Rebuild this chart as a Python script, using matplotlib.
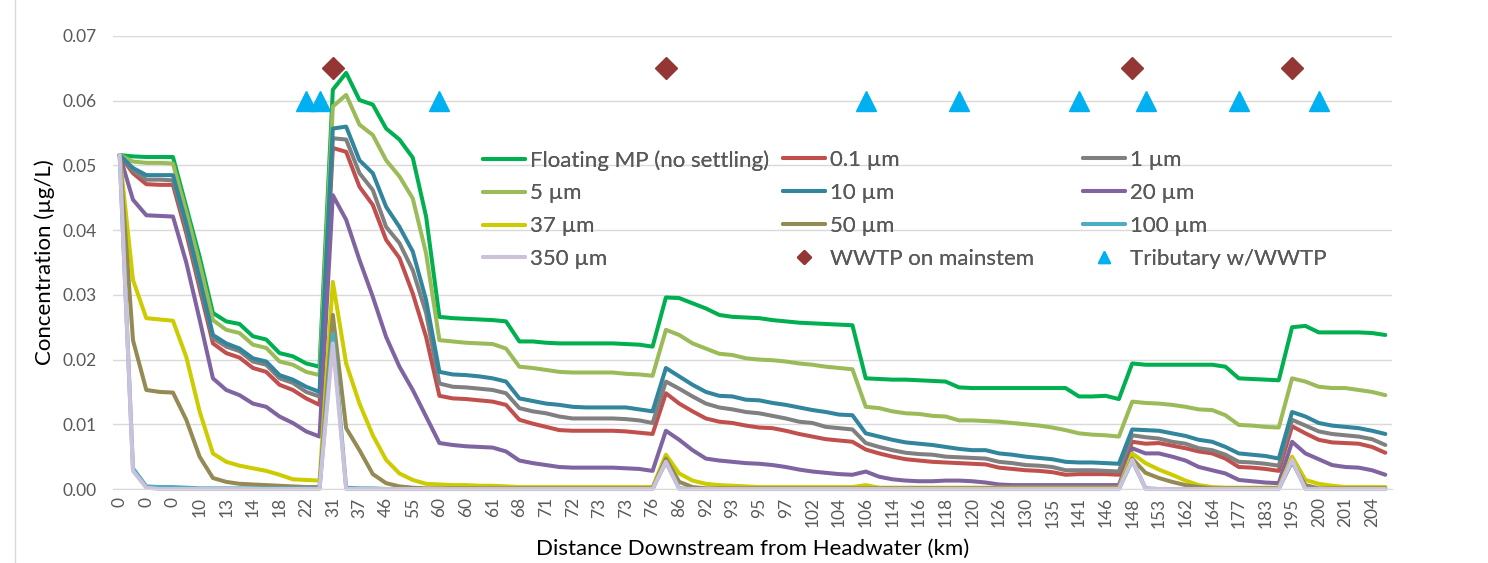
import matplotlib
matplotlib.use("Agg")
import matplotlib.pyplot as plt
from matplotlib.lines import Line2D
import numpy as np

plt.rcParams['font.family'] = ['Lato', 'DejaVu Sans']

# ---------------- data ----------------
tick_labels = ["0", "0", "0", "10", "13", "14", "18", "22", "31", "37", "46", "55",
               "60", "60", "61", "68", "71", "72", "73", "73", "76", "86", "92", "93",
               "95", "97", "102", "104", "106", "114", "116", "118", "120", "126", "130", "135",
               "141", "146", "148", "153", "162", "164", "177", "183", "195", "200", "201", "204"]

floating = [0.0516, 0.0514, 0.0513, 0.0513, 0.0513, 0.0436, 0.0359, 0.0272, 0.0259, 0.0255,
            0.0236, 0.0231, 0.0210, 0.0205, 0.0194, 0.0189, 0.0617, 0.0643, 0.0601, 0.0594,
            0.0557, 0.0540, 0.0512, 0.0421, 0.0266, 0.0264, 0.0263, 0.0262, 0.0261, 0.0259,
            0.0228, 0.0228, 0.0226, 0.0225, 0.0225, 0.0225, 0.0225, 0.0225, 0.0224, 0.0223,
            0.0220, 0.0296, 0.0295, 0.0287, 0.0279, 0.0269, 0.0266, 0.0265, 0.0264, 0.0261,
            0.0259, 0.0257, 0.0256, 0.0255, 0.0254, 0.0253, 0.0171, 0.0170, 0.0169, 0.0169,
            0.0168, 0.0167, 0.0166, 0.0157, 0.0156, 0.0156, 0.0156, 0.0156, 0.0156, 0.0156,
            0.0156, 0.0156, 0.0143, 0.0143, 0.0144, 0.0139, 0.0194, 0.0192, 0.0192, 0.0192,
            0.0192, 0.0192, 0.0192, 0.0189, 0.0171, 0.0170, 0.0169, 0.0168, 0.0250, 0.0252,
            0.0242, 0.0242, 0.0242, 0.0242, 0.0241, 0.0238]

um0_1 = [0.0516, 0.0488, 0.0471, 0.0470, 0.0470, 0.0395, 0.0310, 0.0225, 0.0210, 0.0203,
         0.0187, 0.0181, 0.0161, 0.0153, 0.0140, 0.0130, 0.0527, 0.0521, 0.0467, 0.0439,
         0.0385, 0.0357, 0.0302, 0.0235, 0.0144, 0.0140, 0.0139, 0.0137, 0.0135, 0.0130,
         0.0107, 0.0101, 0.0096, 0.0091, 0.0090, 0.0090, 0.0090, 0.0090, 0.0089, 0.0087,
         0.0085, 0.0148, 0.0132, 0.0120, 0.0109, 0.0104, 0.0102, 0.0098, 0.0095, 0.0094,
         0.0090, 0.0085, 0.0081, 0.0077, 0.0075, 0.0073, 0.0061, 0.0055, 0.0050, 0.0046,
         0.0044, 0.0042, 0.0041, 0.0040, 0.0039, 0.0038, 0.0033, 0.0031, 0.0029, 0.0028,
         0.0026, 0.0022, 0.0023, 0.0023, 0.0023, 0.0022, 0.0073, 0.0070, 0.0071, 0.0067,
         0.0063, 0.0058, 0.0055, 0.0047, 0.0034, 0.0033, 0.0031, 0.0028, 0.0097, 0.0086,
         0.0076, 0.0072, 0.0071, 0.0070, 0.0065, 0.0056]

um1 = [0.0516, 0.0492, 0.0478, 0.0478, 0.0477, 0.0403, 0.0318, 0.0233, 0.0220, 0.0213,
       0.0197, 0.0192, 0.0171, 0.0164, 0.0150, 0.0143, 0.0542, 0.0540, 0.0488, 0.0462,
       0.0405, 0.0380, 0.0338, 0.0272, 0.0163, 0.0158, 0.0157, 0.0155, 0.0153, 0.0148,
       0.0125, 0.0120, 0.0117, 0.0112, 0.0109, 0.0109, 0.0109, 0.0109, 0.0108, 0.0106,
       0.0102, 0.0166, 0.0155, 0.0143, 0.0132, 0.0126, 0.0123, 0.0119, 0.0117, 0.0113,
       0.0109, 0.0104, 0.0102, 0.0096, 0.0094, 0.0092, 0.0071, 0.0065, 0.0060, 0.0056,
       0.0054, 0.0053, 0.0050, 0.0049, 0.0048, 0.0047, 0.0042, 0.0040, 0.0037, 0.0036,
       0.0034, 0.0029, 0.0029, 0.0029, 0.0028, 0.0027, 0.0083, 0.0080, 0.0078, 0.0073,
       0.0070, 0.0063, 0.0060, 0.0053, 0.0042, 0.0041, 0.0039, 0.0036, 0.0107, 0.0098,
       0.0089, 0.0085, 0.0083, 0.0081, 0.0077, 0.0068]

um5 = [0.0516, 0.0506, 0.0504, 0.0504, 0.0503, 0.0428, 0.0348, 0.0261, 0.0246, 0.0241,
       0.0223, 0.0218, 0.0197, 0.0192, 0.0181, 0.0176, 0.0591, 0.0609, 0.0563, 0.0547,
       0.0508, 0.0483, 0.0449, 0.0364, 0.0230, 0.0228, 0.0226, 0.0225, 0.0224, 0.0217,
       0.0189, 0.0187, 0.0184, 0.0181, 0.0180, 0.0180, 0.0180, 0.0180, 0.0178, 0.0177,
       0.0175, 0.0246, 0.0238, 0.0225, 0.0217, 0.0209, 0.0207, 0.0202, 0.0200, 0.0199,
       0.0197, 0.0194, 0.0192, 0.0189, 0.0187, 0.0185, 0.0127, 0.0125, 0.0120, 0.0117,
       0.0116, 0.0113, 0.0112, 0.0106, 0.0106, 0.0105, 0.0104, 0.0102, 0.0100, 0.0098,
       0.0095, 0.0091, 0.0086, 0.0084, 0.0083, 0.0081, 0.0135, 0.0133, 0.0132, 0.0130,
       0.0127, 0.0123, 0.0122, 0.0114, 0.0099, 0.0098, 0.0096, 0.0095, 0.0171, 0.0166,
       0.0158, 0.0156, 0.0156, 0.0153, 0.0150, 0.0145]

um10 = [0.0516, 0.0496, 0.0485, 0.0485, 0.0485, 0.0410, 0.0325, 0.0238, 0.0225, 0.0217,
        0.0202, 0.0197, 0.0176, 0.0169, 0.0158, 0.0150, 0.0557, 0.0560, 0.0508, 0.0488,
        0.0436, 0.0405, 0.0367, 0.0292, 0.0181, 0.0177, 0.0176, 0.0174, 0.0171, 0.0166,
        0.0140, 0.0136, 0.0132, 0.0130, 0.0127, 0.0126, 0.0126, 0.0126, 0.0126, 0.0123,
        0.0120, 0.0187, 0.0174, 0.0161, 0.0150, 0.0144, 0.0143, 0.0138, 0.0137, 0.0133,
        0.0130, 0.0126, 0.0122, 0.0119, 0.0115, 0.0114, 0.0086, 0.0081, 0.0076, 0.0072,
        0.0070, 0.0068, 0.0065, 0.0062, 0.0060, 0.0060, 0.0055, 0.0053, 0.0050, 0.0048,
        0.0046, 0.0042, 0.0041, 0.0041, 0.0040, 0.0039, 0.0092, 0.0091, 0.0090, 0.0086,
        0.0082, 0.0076, 0.0073, 0.0065, 0.0055, 0.0053, 0.0051, 0.0047, 0.0119, 0.0112,
        0.0102, 0.0098, 0.0096, 0.0094, 0.0090, 0.0085]

um20 = [0.0516, 0.0447, 0.0423, 0.0422, 0.0421, 0.0350, 0.0262, 0.0171, 0.0153, 0.0145,
        0.0132, 0.0127, 0.0112, 0.0102, 0.0089, 0.0081, 0.0454, 0.0416, 0.0354, 0.0297,
        0.0235, 0.0189, 0.0153, 0.0112, 0.0071, 0.0068, 0.0066, 0.0065, 0.0064, 0.0058,
        0.0044, 0.0040, 0.0037, 0.0034, 0.0033, 0.0033, 0.0033, 0.0033, 0.0032, 0.0031,
        0.0028, 0.0090, 0.0076, 0.0060, 0.0047, 0.0044, 0.0042, 0.0040, 0.0039, 0.0037,
        0.0034, 0.0030, 0.0027, 0.0025, 0.0023, 0.0022, 0.0027, 0.0019, 0.0015, 0.0013,
        0.0012, 0.0012, 0.0013, 0.0013, 0.0012, 0.0010, 0.0007, 0.0006, 0.0006, 0.0006,
        0.0006, 0.0006, 0.0006, 0.0006, 0.0006, 0.0006, 0.0063, 0.0055, 0.0055, 0.0050,
        0.0044, 0.0034, 0.0029, 0.0024, 0.0014, 0.0012, 0.0010, 0.0009, 0.0073, 0.0055,
        0.0046, 0.0037, 0.0034, 0.0033, 0.0029, 0.0022]

um37 = [0.0516, 0.0323, 0.0264, 0.0262, 0.0260, 0.0204, 0.0120, 0.0055, 0.0042, 0.0036,
        0.0032, 0.0028, 0.0022, 0.0015, 0.0014, 0.0013, 0.0320, 0.0194, 0.0132, 0.0083,
        0.0045, 0.0024, 0.0014, 0.0008, 0.0007, 0.0006, 0.0006, 0.0005, 0.0005, 0.0004,
        0.0003, 0.0003, 0.0003, 0.0003, 0.0003, 0.0003, 0.0003, 0.0003, 0.0003, 0.0003,
        0.0003, 0.0053, 0.0024, 0.0013, 0.0008, 0.0006, 0.0005, 0.0004, 0.0003, 0.0003,
        0.0003, 0.0003, 0.0003, 0.0003, 0.0003, 0.0003, 0.0006, 0.0002, 0.0002, 0.0002,
        0.0002, 0.0002, 0.0002, 0.0002, 0.0002, 0.0002, 0.0002, 0.0002, 0.0002, 0.0002,
        0.0002, 0.0002, 0.0002, 0.0002, 0.0002, 0.0002, 0.0055, 0.0040, 0.0030, 0.0022,
        0.0013, 0.0006, 0.0003, 0.0002, 0.0002, 0.0002, 0.0002, 0.0002, 0.0050, 0.0014,
        0.0008, 0.0005, 0.0003, 0.0003, 0.0003, 0.0003]

um50 = [0.0516, 0.0230, 0.0153, 0.0150, 0.0149, 0.0107, 0.0050, 0.0017, 0.0011, 0.0008,
        0.0007, 0.0006, 0.0005, 0.0004, 0.0003, 0.0003, 0.0269, 0.0094, 0.0060, 0.0023,
        0.0009, 0.0004, 0.0002, 0.0001, 0.0001, 0.0001, 0.0001, 0.0001, 0.0001, 0.0001,
        0.0001, 0.0001, 0.0001, 0.0001, 0.0001, 0.0001, 0.0001, 0.0001, 0.0001, 0.0001,
        0.0001, 0.0047, 0.0011, 0.0003, 0.0001, 0.0001, 0.0001, 0.0001, 0.0001, 0.0001,
        0.0001, 0.0001, 0.0001, 0.0001, 0.0001, 0.0001, 0.0001, 0.0001, 0.0001, 0.0001,
        0.0001, 0.0001, 0.0001, 0.0001, 0.0001, 0.0001, 0.0001, 0.0001, 0.0001, 0.0001,
        0.0001, 0.0001, 0.0001, 0.0001, 0.0001, 0.0001, 0.0047, 0.0025, 0.0017, 0.0011,
        0.0006, 0.0003, 0.0001, 0.0001, 0.0001, 0.0001, 0.0001, 0.0001, 0.0042, 0.0006,
        0.0001, 0.0001, 0.0001, 0.0001, 0.0001, 0.0001]

um100 = [0.0516, 0.0032, 0.0004, 0.0003, 0.0003, 0.0002, 0.0001, 0.0001, 0.0001, 0.0001,
         0.0001, 0.0001, 0.0001, 0.0001, 0.0001, 0.0001, 0.0240, 0.0002, 0.0001, 0.0001,
         0.0, 0.0, 0.0, 0.0, 0.0, 0.0, 0.0, 0.0, 0.0, 0.0,
         0.0, 0.0, 0.0, 0.0, 0.0, 0.0, 0.0, 0.0, 0.0, 0.0,
         0.0, 0.0042, 0.0001, 0.0, 0.0, 0.0, 0.0, 0.0, 0.0, 0.0,
         0.0, 0.0, 0.0, 0.0, 0.0, 0.0, 0.0, 0.0, 0.0, 0.0,
         0.0, 0.0, 0.0, 0.0, 0.0, 0.0, 0.0, 0.0, 0.0, 0.0,
         0.0, 0.0, 0.0, 0.0, 0.0, 0.0, 0.0044, 0.0001, 0.0, 0.0,
         0.0, 0.0, 0.0, 0.0, 0.0, 0.0, 0.0, 0.0, 0.0044, 0.0001,
         0.0, 0.0, 0.0, 0.0, 0.0, 0.0]

um350 = [0.0516, 0.0028, 0.0002, 0.0, 0.0, 0.0, 0.0, 0.0, 0.0, 0.0,
         0.0, 0.0, 0.0, 0.0, 0.0, 0.0, 0.0225, 0.0, 0.0, 0.0,
         0.0, 0.0, 0.0, 0.0, 0.0, 0.0, 0.0, 0.0, 0.0, 0.0,
         0.0, 0.0, 0.0, 0.0, 0.0, 0.0, 0.0, 0.0, 0.0, 0.0,
         0.0, 0.0042, 0.0, 0.0, 0.0, 0.0, 0.0, 0.0, 0.0, 0.0,
         0.0, 0.0, 0.0, 0.0, 0.0, 0.0, 0.0, 0.0, 0.0, 0.0,
         0.0, 0.0, 0.0, 0.0, 0.0, 0.0, 0.0, 0.0, 0.0, 0.0,
         0.0, 0.0, 0.0, 0.0, 0.0, 0.0, 0.0045, 0.0, 0.0, 0.0,
         0.0, 0.0, 0.0, 0.0, 0.0, 0.0, 0.0, 0.0, 0.0045, 0.0,
         0.0, 0.0, 0.0, 0.0, 0.0, 0.0]

# marker series (category index -> value)
wwtp_idx = [16, 41, 76, 88]
wwtp_val = [0.065, 0.065, 0.065, 0.065]
trib_idx = [14, 15, 24, 56, 63, 72, 77, 84, 90]
trib_val = [0.060, 0.060, 0.060, 0.060, 0.060, 0.060, 0.060, 0.060, 0.060]

series_names = ["Floating MP (no settling)", "0.1 µm", "1 µm", "5 µm", "10 µm", "20 µm",
                "37 µm", "50 µm", "100 µm", "350 µm"]
series_values = [floating, um0_1, um1, um5, um10, um20, um37, um50, um100, um350]
series_colors = ["#00B050", "#C0504D", "#808080", "#9BBB59", "#31859C", "#8064A2",
                 "#CCCC00", "#948A54", "#4BACC6", "#CCC1DA"]

# ---------------- figure ----------------
W, H = 1488, 563
fig = plt.figure(figsize=(W / 100, H / 100), dpi=100)
ax = fig.add_axes([113 / W, 1 - 489 / H, (1392 - 113) / W, (489 - 36) / H])

x = np.arange(len(floating))
handles = []
for name, vals, col in zip(series_names, series_values, series_colors):
    h, = ax.plot(x, vals, color=col, lw=2.9, label=name, clip_on=False,
                 solid_joinstyle='round', solid_capstyle='round')
    handles.append(h)

hw, = ax.plot(wwtp_idx, wwtp_val, ls='none', marker='D', ms=11.5, color='#943634',
              label="WWTP on mainstem", clip_on=False)
ht, = ax.plot(trib_idx, trib_val, ls='none', marker='^', ms=15, color='#00B0F0',
              label="Tributary w/WWTP", clip_on=False)
handles += [hw, ht]

ax.set_xlim(-0.5, len(floating) - 0.5)
ax.set_ylim(0, 0.07)
ax.set_yticks(np.arange(0, 0.0701, 0.01))
ax.yaxis.set_major_formatter(matplotlib.ticker.FormatStrFormatter('%.2f'))
ax.set_xticks(np.arange(0, len(floating), 2))
ax.set_xticklabels(tick_labels, rotation=90)
ax.grid(axis='y', color='#D9D9D9', lw=1.0)
ax.set_axisbelow(True)
for s in ['top', 'right', 'left']:
    ax.spines[s].set_visible(False)
ax.spines['bottom'].set_color('#D9D9D9')
ax.tick_params(axis='both', length=0, colors='#595959', labelsize=12.5)
ax.tick_params(axis='y', pad=12)
ax.tick_params(axis='x', pad=6)

ax.set_ylabel("Concentration (µg/L)", fontsize=16, color='#000000', labelpad=5)
ax.set_xlabel("Distance Downstream from Headwater (km)", fontsize=16, color='#000000', labelpad=8)

# legend: three columns, row-major order like Excel
cols = [[handles[0], handles[3], handles[6], handles[9]],
        [handles[1], handles[4], handles[7], handles[10]],
        [handles[2], handles[5], handles[8], handles[11]]]
col_x = [483, 783, 1083]
for hs, cx in zip(cols, col_x):
    leg = fig.legend(handles=hs, labels=[h.get_label() for h in hs],
                     loc='upper left', bbox_to_anchor=(cx / W, 1 - 150 / H),
                     frameon=False, fontsize=16, handlelength=1.9, handletextpad=0.22,
                     labelspacing=0.58, borderpad=0, borderaxespad=0, markerscale=0.6,
                     labelcolor='#595959')
    fig.add_artist(leg)

# chart border line on the left
fig.add_artist(Line2D([15 / W, 15 / W], [0, 1], color='#D9D9D9', lw=1.0))

fig.savefig("out.png", dpi=100)
